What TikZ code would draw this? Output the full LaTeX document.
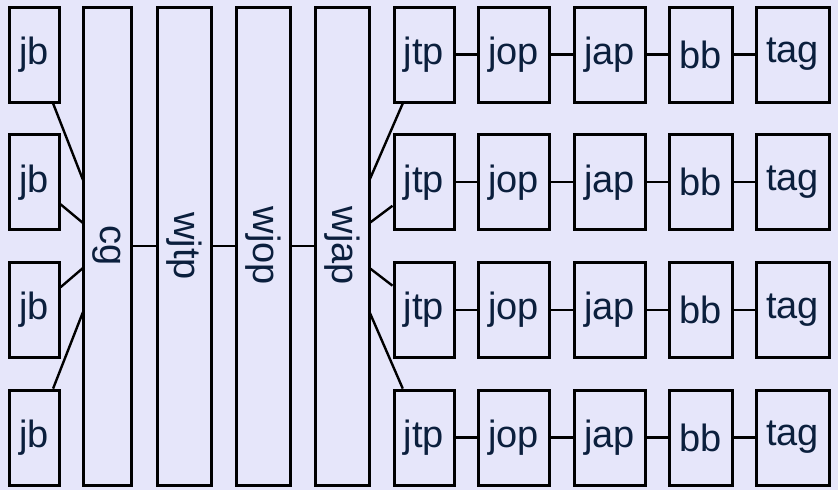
\documentclass[tikz,border=0pt]{standalone}
\usepackage{fontspec}
\setmainfont{Liberation Sans}
\definecolor{bg}{HTML}{E6E6FA}
\definecolor{txt}{HTML}{0B1F3D}
\tikzset{
  boxnode/.style={draw=black, line width=3pt, fill=bg, inner sep=0pt, text=txt,
    font=\fontsize{38}{40}\selectfont},
  small/.style={boxnode, minimum width=#1, minimum height=95pt},
  link/.style={draw=black, line width=2.4pt}
}
\begin{document}
\begin{tikzpicture}[x=1pt,y=-1pt]
\fill[white] (0,0) rectangle (838,496);
\fill[bg] (0,0) rectangle (838,490);
\useasboundingbox (0,0) rectangle (838,496);
% tall boxes (rotated, so width/height swapped)
\node[boxnode, minimum width=478pt, minimum height=48pt, rotate=-90] (cg) at (107,246) {cg};
\node[boxnode, minimum width=478pt, minimum height=54pt, rotate=-90] (wjtp) at (184,246) {wjtp};
\node[boxnode, minimum width=478pt, minimum height=54pt, rotate=-90] (wjop) at (263,246) {wjop};
\node[boxnode, minimum width=478pt, minimum height=54pt, rotate=-90] (wjap) at (342,246) {wjap};
\draw[link] (cg) -- (wjtp);
\draw[link] (wjtp) -- (wjop);
\draw[link] (wjop) -- (wjap);
% rows
\foreach \i/\y/\ly in {1/54.5/180, 2/182.2/223, 3/309.9/268, 4/437.6/312}{
  \node[small=50pt] (jb\i) at (34,\y) {jb};
  \node[small=60pt] (jtp\i) at (424,\y) {jtp};
  \node[small=71pt] (jop\i) at (513.5,\y) {jop};
  \node[small=71pt] (jap\i) at (609.5,\y) {jap};
  \node[small=63pt] (bb\i) at (700.5,\y) {bb};
  \node[small=73pt] (tag\i) at (792.5,\y) {tag};
  \coordinate (cgl\i) at (83,\ly);
  \coordinate (wjr\i) at (369.5,\ly);
  \draw[link] (jb\i) -- (cgl\i);
  \draw[link] (jtp\i) -- (wjr\i);
  \draw[link] (jtp\i) -- (jop\i);
  \draw[link] (jop\i) -- (jap\i);
  \draw[link] (jap\i) -- (bb\i);
  \draw[link] (bb\i) -- (tag\i);
}
\end{tikzpicture}
\end{document}
